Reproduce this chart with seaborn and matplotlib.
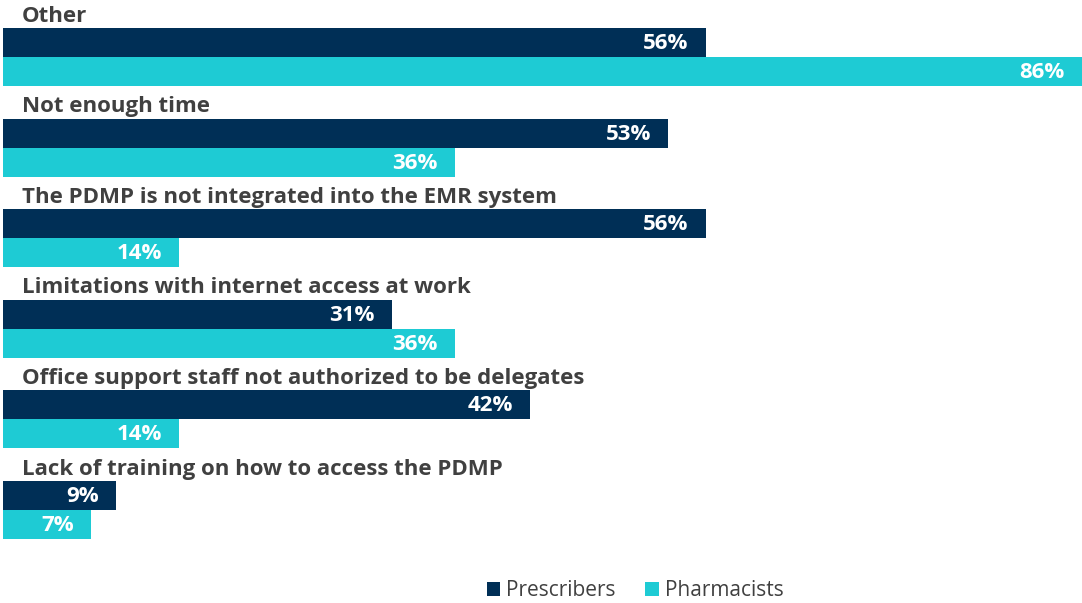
import matplotlib
matplotlib.use("Agg")
import matplotlib.pyplot as plt
import seaborn as sns
import pandas as pd
from matplotlib.patches import Patch

categories = [
    "Other",
    "Not enough time",
    "The PDMP is not integrated into the EMR system",
    "Limitations with internet access at work",
    "Office support staff not authorized to be delegates",
    "Lack of training on how to access the PDMP",
]
prescribers = [56, 53, 56, 31, 42, 9]
pharmacists = [86, 36, 14, 36, 14, 7]
series_names = ["Prescribers", "Pharmacists"]
colors = ["#002F56", "#1ECBD4"]

df = pd.DataFrame({
    "category": categories * 2,
    "value": prescribers + pharmacists,
    "group": [series_names[0]] * len(categories) + [series_names[1]] * len(categories),
})

sns.set_style("white")
plt.rcParams["font.family"] = ["Open Sans", "DejaVu Sans"]

W, H = 1082, 603
fig = plt.figure(figsize=(W / 100, H / 100), dpi=100)
ax = fig.add_axes([3 / W, 1 - 560 / H, 1079 / W, 560 / H])

sns.barplot(data=df, y="category", x="value", hue="group", orient="h",
            order=categories, hue_order=series_names, palette=colors,
            saturation=1, width=0.64, linewidth=0, legend=False, ax=ax)

ax.set_xlim(0, 86)
ax.set_ylim(5.552, -0.629)
ax.axis("off")

# category titles sit just above each pair of bars
for i, cat in enumerate(categories):
    ax.text(1.5, i - 0.335, cat, ha="left", va="bottom", fontsize=16,
            fontweight="bold", color="#404040")

# value labels inside the bar ends
for container, vals in zip(ax.containers, [prescribers, pharmacists]):
    for bar, v in zip(container, vals):
        y = bar.get_y() + bar.get_height() / 2
        ax.annotate(f"{v}%", xy=(v, y), xytext=(-17, -1), textcoords="offset pixels",
                    ha="right", va="center", fontsize=16, fontweight="bold",
                    color="white")

handles = [Patch(facecolor=c, edgecolor="none") for c in colors]
fig.legend(handles, series_names, loc="center", bbox_to_anchor=(635 / W, 1 - 591 / H),
           ncol=2, frameon=False, fontsize=15, handlelength=0.65, handleheight=0.65,
           handletextpad=0.3, columnspacing=1.4, labelcolor="#404040")

fig.savefig("out.png", dpi=100)
